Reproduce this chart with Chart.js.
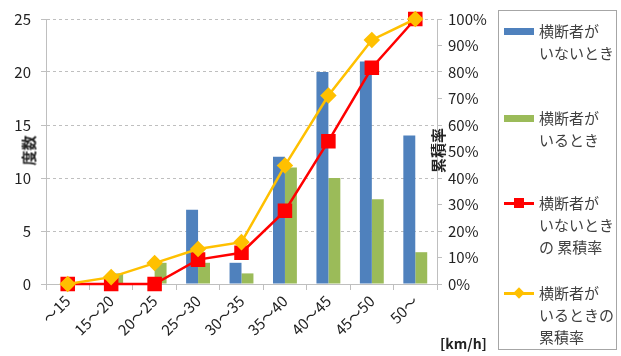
<!DOCTYPE html>
<html><head><meta charset="utf-8">
<script src="https://cdn.jsdelivr.net/npm/chart.js@4/dist/chart.umd.min.js"></script>
<style>
html,body{margin:0;padding:0;background:#fff;}
#wrap{position:relative;width:621px;height:356px;font-family:"Noto Sans CJK JP","Noto Sans",sans-serif;}
canvas{position:absolute;left:0;top:0;}
.t{position:absolute;color:#222;font-weight:bold;font-size:15px;white-space:nowrap;}
#legend{position:absolute;left:498px;top:10px;width:119px;height:340px;border:1px solid #a6a6a6;box-sizing:border-box;}
.li{position:absolute;left:0;width:118px;}
.sw{position:absolute;left:5px;width:30px;}
.lt{position:absolute;left:40px;font-size:15px;line-height:22px;color:#404040;white-space:nowrap;}
</style></head>
<body><div id="wrap"><canvas id="c" width="621" height="356"></canvas>
<div class="t" id="ylab" style="left:13px;top:140px;transform:rotate(-90deg);transform-origin:center;">度数</div>
<div class="t" id="y1lab" style="left:415px;top:140px;transform:rotate(-90deg);transform-origin:center;">累積率</div>
<div class="t" style="left:440px;top:333px;font-size:14px;">[km/h]</div>
<div id="legend"></div>
</div>
<script>
const categories = ["～15","15～20","20～25","25～30","30～35","35～40","40～45","45～50","50～"];
const countNoCrosser = [0,0,0,7,2,12,20,21,14];
const countCrosser = [0,1,2,2,1,11,10,8,3];
const cumNoCrosser = [0,0,0,9.2,11.8,27.6,53.9,81.6,100];
const cumCrosser = [0,2.6,7.9,13.2,15.8,44.7,71.1,92.1,100];
const leftTicks = [0,5,10,15,20,25];
const seriesNames = [["横断者が","いないとき"],["横断者が","いるとき"],["横断者が","いないとき","の 累積率"],["横断者が","いるときの","累積率"]];
const colors = ["#4F81BD","#9BBB59","#FF0000","#FFC000"];

const tickFont = {family:'"Noto Sans CJK JP","Noto Sans",sans-serif', size:15};
new Chart(document.getElementById('c'), {
  type:'bar',
  data:{
    labels:categories,
    datasets:[
      {type:'line',label:seriesNames[3].join(''),data:cumCrosser,yAxisID:'y1',borderColor:colors[3],backgroundColor:colors[3],borderWidth:2.5,pointStyle:'rectRot',pointRadius:6.5,tension:0,order:0,clip:false},
      {type:'line',label:seriesNames[2].join(''),data:cumNoCrosser,yAxisID:'y1',borderColor:colors[2],backgroundColor:colors[2],borderWidth:2.5,pointStyle:'rect',pointRadius:8.5,tension:0,order:1,clip:false},
      {label:seriesNames[0].join(''),data:countNoCrosser,yAxisID:'y',backgroundColor:colors[0],categoryPercentage:0.55,barPercentage:1,order:2},
      {label:seriesNames[1].join(''),data:countCrosser,yAxisID:'y',backgroundColor:colors[1],categoryPercentage:0.55,barPercentage:1,order:3}
    ]
  },
  options:{
    responsive:false,animation:false,
    layout:{padding:{top:16,right:123,left:0,bottom:0}},
    plugins:{legend:{display:false},tooltip:{enabled:false}},
    scales:{
      x:{
        grid:{drawOnChartArea:false,drawTicks:true,tickLength:6,color:'#bfbfbf',offset:true},
        border:{display:true,color:'#bfbfbf',width:1},
        ticks:{font:tickFont,color:'#222',maxRotation:45,minRotation:45,padding:2},
        afterFit:(s)=>{s.height=72;}
      },
      y:{
        position:'left',min:0,max:25,
        afterBuildTicks:(s)=>{s.ticks=leftTicks.map(v=>({value:v}));},
        grid:{color:(ctx)=>ctx.tick && ctx.tick.value===0?'rgba(0,0,0,0)':'#bfbfbf',drawTicks:true,tickLength:5,tickColor:'#bfbfbf'},
        border:{display:true,color:'#bfbfbf',dash:[3,3]},
        ticks:{font:tickFont,color:'#222',padding:10},
        afterFit:(s)=>{s.width=46;}
      },
      y1:{
        position:'right',min:0,max:100,
        ticks:{stepSize:10,font:tickFont,color:'#222',padding:6,callback:(v)=>v+'%'},
        grid:{drawOnChartArea:false,drawTicks:true,tickLength:5,color:'#bfbfbf'},
        border:{display:true,color:'#bfbfbf'},
        afterFit:(s)=>{s.width=61;}
      }
    }
  }
});

// HTML legend
const leg = document.getElementById('legend');
const tops = [9,96,181,271];
seriesNames.forEach((lines,i)=>{
  const item = document.createElement('div');
  item.className='li'; item.style.top=tops[i]+'px';
  let sw;
  if(i<2){
    sw = `<div class="sw" style="top:8px;height:7px;background:${colors[i]}"></div>`;
  } else if(i===2){
    sw = `<div class="sw" style="top:10px;height:2.5px;background:${colors[i]}"></div><div style="position:absolute;left:15px;top:6px;width:10px;height:10px;background:${colors[i]}"></div>`;
  } else {
    sw = `<div class="sw" style="top:10px;height:2.5px;background:${colors[i]}"></div><div style="position:absolute;left:16px;top:7px;width:8px;height:8px;background:${colors[i]};transform:rotate(45deg)"></div>`;
  }
  item.innerHTML = sw + `<div class="lt" style="top:0">${lines.join('<br>')}</div>`;
  leg.appendChild(item);
});
</script>
</body></html>
